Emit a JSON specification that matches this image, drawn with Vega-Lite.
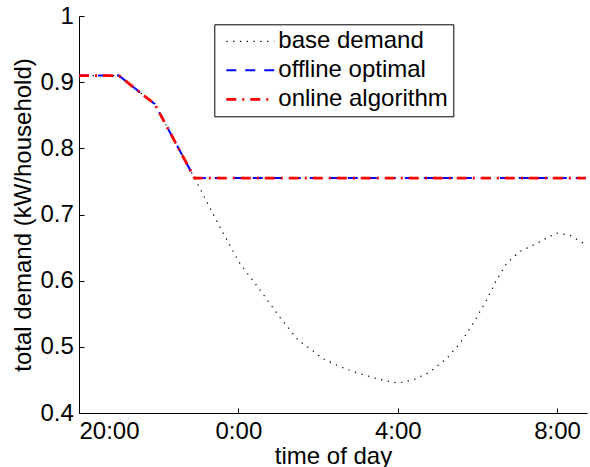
{
  "$schema": "https://vega.github.io/schema/vega-lite/v6.json",
  "width": 508,
  "height": 397,
  "autosize": {"type": "none"},
  "padding": {"left": 79, "top": 16, "right": 3, "bottom": 54},
  "background": "white",
  "config": {
    "view": {"stroke": null},
    "font": "Liberation Sans",
    "axis": {
      "domainColor": "black",
      "tickColor": "black",
      "labelColor": "black",
      "titleColor": "black",
      "labelFont": "Liberation Sans",
      "titleFont": "Liberation Sans",
      "labelFontSize": 24,
      "titleFontSize": 24,
      "titleFontWeight": "normal",
      "grid": false,
      "tickSize": -5,
      "tickWidth": 1,
      "domainWidth": 1
    },
    "legend": {
      "title": null,
      "orient": "none",
      "legendX": 135.3,
      "legendY": 8.3,
      "symbolType": "M-1.67,0H6.33",
      "symbolSize": 144,
      "labelFontSize": 24,
      "labelFont": "Liberation Sans",
      "labelColor": "black",
      "labelLimit": 400,
      "strokeColor": "black",
      "fillColor": "white",
      "padding": 5,
      "rowPadding": 5,
      "symbolOffset": 5,
      "labelOffset": 30
    }
  },
  "data": {
    "values": [
      {"s": "base demand", "h": 0, "v": 0.91},
      {"s": "base demand", "h": 1.0, "v": 0.91},
      {"s": "base demand", "h": 1.9, "v": 0.867},
      {"s": "base demand", "h": 2.9, "v": 0.755},
      {"s": "base demand", "h": 3.58, "v": 0.676},
      {"s": "base demand", "h": 4.04, "v": 0.626},
      {"s": "base demand", "h": 4.54, "v": 0.586},
      {"s": "base demand", "h": 5.04, "v": 0.545},
      {"s": "base demand", "h": 5.5, "v": 0.51},
      {"s": "base demand", "h": 5.8, "v": 0.497},
      {"s": "base demand", "h": 6.13, "v": 0.482},
      {"s": "base demand", "h": 6.55, "v": 0.47},
      {"s": "base demand", "h": 6.96, "v": 0.461},
      {"s": "base demand", "h": 7.47, "v": 0.452},
      {"s": "base demand", "h": 8.0, "v": 0.445},
      {"s": "base demand", "h": 8.39, "v": 0.45},
      {"s": "base demand", "h": 8.81, "v": 0.462},
      {"s": "base demand", "h": 9.22, "v": 0.482},
      {"s": "base demand", "h": 9.56, "v": 0.505},
      {"s": "base demand", "h": 9.89, "v": 0.535},
      {"s": "base demand", "h": 10.23, "v": 0.571},
      {"s": "base demand", "h": 10.48, "v": 0.601},
      {"s": "base demand", "h": 10.73, "v": 0.626},
      {"s": "base demand", "h": 11.06, "v": 0.644},
      {"s": "base demand", "h": 11.48, "v": 0.656},
      {"s": "base demand", "h": 11.98, "v": 0.672},
      {"s": "base demand", "h": 12.31, "v": 0.669},
      {"s": "base demand", "h": 12.65, "v": 0.657},
      {"s": "offline optimal", "h": 0, "v": 0.91},
      {"s": "offline optimal", "h": 1.0, "v": 0.91},
      {"s": "offline optimal", "h": 1.9, "v": 0.867},
      {"s": "offline optimal", "h": 2.9, "v": 0.755},
      {"s": "offline optimal", "h": 12.72, "v": 0.755},
      {"s": "online algorithm", "h": 0, "v": 0.91},
      {"s": "online algorithm", "h": 1.0, "v": 0.91},
      {"s": "online algorithm", "h": 1.9, "v": 0.867},
      {"s": "online algorithm", "h": 2.9, "v": 0.755},
      {"s": "online algorithm", "h": 12.72, "v": 0.755}
    ]
  },
  "mark": {"type": "line", "clip": true},
  "encoding": {
    "x": {
      "field": "h",
      "type": "quantitative",
      "scale": {"domain": [0, 12.75], "nice": false, "zero": false},
      "axis": {
        "values": [0, 4, 8, 12],
        "labelExpr": "datum.value == 0 ? '20:00' : datum.value == 4 ? '0:00' : datum.value == 8 ? '4:00' : '8:00'",
        "labelPadding": 11,
        "title": "time of day",
        "titlePadding": 1
      }
    },
    "y": {
      "field": "v",
      "type": "quantitative",
      "scale": {"domain": [0.4, 1], "nice": false, "zero": false},
      "axis": {
        "values": [0.4, 0.5, 0.6, 0.7, 0.8, 0.9, 1],
        "format": ".1~f",
        "labelPadding": 10.7,
        "title": "total demand (kW/household)",
        "titlePadding": 4
      }
    },
    "color": {
      "field": "s",
      "type": "nominal",
      "scale": {
        "domain": ["base demand", "offline optimal", "online algorithm"],
        "range": ["#000000", "#0000ff", "#ff0000"]
      }
    },
    "strokeDash": {
      "field": "s",
      "type": "nominal",
      "scale": {
        "domain": ["base demand", "offline optimal", "online algorithm"],
        "range": [[1.3, 5.5], [10, 9], [10, 6, 2, 6]]
      }
    },
    "strokeWidth": {
      "field": "s",
      "type": "ordinal",
      "scale": {
        "domain": ["base demand", "offline optimal", "online algorithm"],
        "range": [1.2, 2.8, 2.8]
      }
    }
  }
}
